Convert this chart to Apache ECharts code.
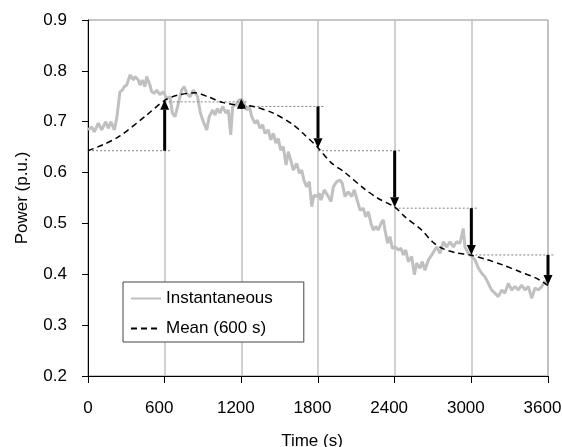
<!DOCTYPE html>
<html>
<head>
<meta charset="utf-8">
<script src="https://cdn.jsdelivr.net/npm/echarts@6/dist/echarts.min.js"></script>
<style>
  html, body { margin: 0; padding: 0; background: #fff; }
  #chart { width: 562px; height: 447px; }
</style>
</head>
<body>
<div id="chart"></div>
<script>
// instantaneous power
const instTime = [0, 29, 49, 81, 107, 139, 159, 180, 206, 225, 250, 268, 284, 303, 329, 355, 368, 394, 407, 425,
  446, 459, 485, 498, 519, 538, 563, 589, 616, 642, 660, 681, 702, 733, 754, 772, 798, 824, 858, 877,
  898, 929, 949, 976, 994, 1012, 1033, 1054, 1080, 1098, 1117, 1132, 1158, 1184, 1203, 1221, 1242, 1262, 1281, 1307,
  1325, 1346, 1367, 1385, 1411, 1430, 1450, 1471, 1489, 1508, 1528, 1550, 1568, 1586, 1607, 1633, 1654, 1672, 1690, 1711,
  1732, 1751, 1769, 1790, 1810, 1823, 1849, 1881, 1902, 1920, 1946, 1972, 1990, 2011, 2037, 2064, 2084, 2103, 2129, 2154,
  2173, 2194, 2215, 2233, 2252, 2272, 2293, 2311, 2324, 2345, 2363, 2382, 2403, 2428, 2449, 2468, 2486, 2507, 2533, 2554,
  2572, 2598, 2616, 2637, 2663, 2690, 2702, 2729, 2755, 2781, 2807, 2833, 2859, 2885, 2911, 2937, 2950, 2976, 3003, 3029,
  3055, 3081, 3107, 3133, 3159, 3185, 3211, 3238, 3263, 3289, 3316, 3342, 3368, 3394, 3420, 3446, 3472, 3498, 3524, 3551,
  3577, 3594]
const instPower = [0.684, 0.690, 0.680, 0.697, 0.684, 0.700, 0.687, 0.700, 0.684, 0.707, 0.759, 0.762, 0.769, 0.772, 0.792, 0.782, 0.789, 0.782, 0.772, 0.782,
  0.769, 0.789, 0.772, 0.759, 0.756, 0.762, 0.753, 0.759, 0.746, 0.749, 0.717, 0.710, 0.730, 0.762, 0.769, 0.756, 0.749, 0.762, 0.749, 0.720,
  0.703, 0.684, 0.710, 0.723, 0.713, 0.726, 0.717, 0.730, 0.717, 0.723, 0.674, 0.730, 0.733, 0.743, 0.744, 0.736, 0.723, 0.730, 0.710, 0.697,
  0.703, 0.687, 0.694, 0.677, 0.684, 0.664, 0.677, 0.658, 0.667, 0.644, 0.651, 0.615, 0.641, 0.625, 0.605, 0.618, 0.599, 0.605, 0.585, 0.572,
  0.582, 0.533, 0.556, 0.553, 0.559, 0.546, 0.566, 0.553, 0.543, 0.572, 0.582, 0.585, 0.579, 0.553, 0.562, 0.553, 0.566, 0.549, 0.526, 0.530,
  0.513, 0.523, 0.500, 0.487, 0.494, 0.487, 0.500, 0.507, 0.487, 0.461, 0.474, 0.451, 0.454, 0.448, 0.451, 0.438, 0.448, 0.425, 0.435, 0.399,
  0.422, 0.412, 0.425, 0.408, 0.428, 0.438, 0.435, 0.454, 0.441, 0.464, 0.454, 0.464, 0.454, 0.464, 0.461, 0.490, 0.454, 0.441, 0.435, 0.428,
  0.412, 0.402, 0.395, 0.382, 0.369, 0.363, 0.356, 0.369, 0.363, 0.382, 0.369, 0.376, 0.369, 0.379, 0.369, 0.376, 0.353, 0.373, 0.369, 0.376,
  0.386, 0.379]

// running mean (600 s)
const meanTime = [0, 120, 250, 459, 600, 700, 837, 950, 1050, 1163, 1293, 1450, 1606, 1700, 1800, 1900, 2011, 2168, 2272, 2400,
  2481, 2611, 2700, 2781, 2885, 2990, 3120, 3250, 3381, 3511, 3600]
const meanPower = [0.643, 0.655, 0.672, 0.713, 0.742, 0.752, 0.757, 0.748, 0.738, 0.733, 0.730, 0.717, 0.694, 0.673, 0.649, 0.620, 0.600, 0.567, 0.549, 0.532,
  0.513, 0.487, 0.463, 0.450, 0.442, 0.438, 0.429, 0.418, 0.405, 0.392, 0.378]

// held levels (dotted) and the steps between them (arrows)
const period = 600
const stepTime = [0, 600, 1200, 1800, 2400, 3000]
const stepLevel = [0.643, 0.739, 0.730, 0.643, 0.530, 0.438]
const arrowTime = [600, 1200, 1800, 2400, 3000, 3600]
const arrowFrom = [0.643, 0.729, 0.730, 0.643, 0.530, 0.438]
const arrowTo = [0.743, 0.745, 0.648, 0.532, 0.438, 0.379]

const font = "'Liberation Sans', Arial, sans-serif"

const chart = echarts.init(document.getElementById('chart'), null, { renderer: 'canvas' })
chart.setOption({
  animation: false,
  backgroundColor: '#fff',
  textStyle: { fontFamily: font },
  grid: {
    left: 88,
    right: 14,
    top: 20,
    bottom: 71,
    outerBoundsMode: 'none',
    containLabel: false,
    show: true,
    borderColor: '#8c8c8c',
    borderWidth: 1
  },
  legend: {
    orient: 'vertical',
    left: 123,
    top: 282,
    data: ['Instantaneous', 'Mean (600 s)'],
    itemWidth: 30,
    itemHeight: 14,
    itemGap: 13,
    padding: [8, 31, 5, 7],
    backgroundColor: '#fff',
    borderColor: '#444',
    borderWidth: 1,
    itemStyle: { opacity: 0 },
    textStyle: { fontSize: 17, color: '#000', fontFamily: font }
  },
  xAxis: {
    type: 'value',
    min: 0,
    max: 3600,
    interval: 600,
    name: 'Time (s)',
    nameLocation: 'middle',
    nameGap: 57,
    nameTextStyle: { fontSize: 17, color: '#000', fontFamily: font, padding: [0, 12, 0, 0] },
    axisLine: { lineStyle: { color: '#000', width: 1 } },
    axisTick: { length: 7, lineStyle: { color: '#000' } },
    axisLabel: {
      fontSize: 17, color: '#000', margin: 24, fontFamily: font,
      formatter: (v) => (v === 0 ? '0' : '{p|' + v + '}'),
      rich: {
        p: { fontSize: 17, color: '#000', fontFamily: font, padding: [0, 11, 0, 0] }
      }
    },
    splitLine: { show: true, lineStyle: { color: '#c0c0c0', width: 1.5 } }
  },
  yAxis: {
    type: 'value',
    min: 0.2,
    max: 0.9,
    interval: 0.1,
    name: 'Power (p.u.)',
    nameLocation: 'middle',
    nameGap: 57,
    nameTextStyle: { fontSize: 17, color: '#000', fontFamily: font },
    axisLine: { show: true, lineStyle: { color: '#000', width: 1 } },
    axisTick: { show: true, length: 6, lineStyle: { color: '#000' } },
    axisLabel: {
      fontSize: 17, color: '#000', margin: 21, fontFamily: font,
      formatter: (v) => v.toFixed(1)
    },
    splitLine: { show: false }
  },
  series: [
    {
      name: 'Instantaneous',
      type: 'line',
      symbol: 'none',
      z: 2,
      itemStyle: { color: '#c0c0c0' },
      lineStyle: { color: '#c0c0c0', width: 3 },
      data: instTime.map((t, i) => [t, instPower[i]])
    },
    {
      name: 'levels',
      type: 'custom',
      z: 3,
      silent: true,
      clip: false,
      encode: { x: 0, y: 1 },
      data: stepTime.map((t, i) => [t, stepLevel[i]]),
      renderItem: (params, api) => {
        const p0 = api.coord([api.value(0), api.value(1)])
        const p1 = api.coord([api.value(0) + period, api.value(1)])
        return {
          type: 'line',
          shape: { x1: p0[0], y1: p0[1], x2: p1[0] + 7, y2: p1[1] },
          style: { stroke: '#808080', lineWidth: 1, lineDash: [2, 2] }
        }
      }
    },
    {
      name: 'Mean (600 s)',
      type: 'line',
      symbol: 'none',
      smooth: 0.3,
      z: 4,
      itemStyle: { color: '#000' },
      lineStyle: { color: '#000', width: 1.5, type: [6, 4] },
      data: meanTime.map((t, i) => [t, meanPower[i]])
    },
    {
      name: 'steps',
      type: 'custom',
      z: 5,
      silent: true,
      clip: false,
      encode: { x: 0, y: [1, 2] },
      data: arrowTime.map((t, i) => [t, arrowFrom[i], arrowTo[i]]),
      renderItem: (params, api) => {
        const p0 = api.coord([api.value(0), api.value(1)])
        const p1 = api.coord([api.value(0), api.value(2)])
        const dir = p1[1] > p0[1] ? 1 : -1
        const head = 10
        const half = 4.5
        const baseY = p1[1] - dir * head
        return {
          type: 'group',
          children: [
            {
              type: 'line',
              shape: { x1: p0[0], y1: p0[1], x2: p1[0], y2: baseY },
              style: { stroke: '#000', lineWidth: 3 }
            },
            {
              type: 'polygon',
              shape: { points: [[p1[0], p1[1]], [p1[0] - half, baseY], [p1[0] + half, baseY]] },
              style: { fill: '#000' }
            }
          ]
        }
      }
    }
  ]
})
</script>
</body>
</html>
